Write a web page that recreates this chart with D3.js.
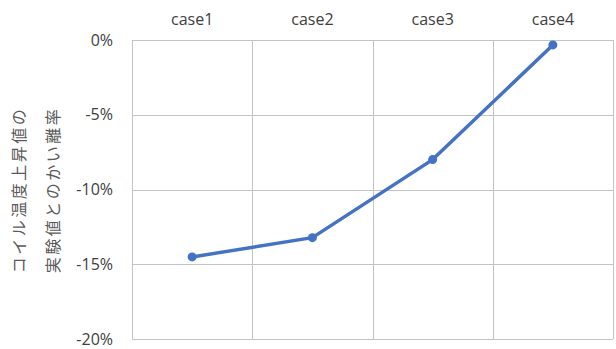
<!DOCTYPE html>
<html>
<head>
<meta charset="utf-8">
<script src="https://cdn.jsdelivr.net/npm/d3@7"></script>
<style>
  html, body { margin: 0; padding: 0; background: #fff; }
  svg { display: block; }
</style>
</head>
<body>
<svg id="chart" width="616" height="349"></svg>
<script>
// Categories shown along the top edge
const categories = ["case1", "case2", "case3", "case4"];
// Deviation of coil temperature rise from measured values (fraction)
const deviation = [-0.1451, -0.1322, -0.0800, -0.0033];
// Y axis ticks
const yTicks = [0, -0.05, -0.10, -0.15, -0.20];
// Axis title lines (rotated)
const yTitleLines = ["コイル温度上昇値の", "実験値とのかい離率"];

const svg = d3.select("#chart");
const plot = { left: 132, right: 613, top: 40, bottom: 339 };

const x = d3.scaleBand().domain(categories).range([plot.left, plot.right]).padding(0);
const y = d3.scaleLinear().domain([-0.20, 0]).range([plot.bottom, plot.top]);

const textColor = "#595959";
const labelColor = "#404040";
const gridColor = "#c4c4c4";
const latin = "'Open Sans', 'Noto Sans', sans-serif";

// Horizontal gridlines
svg.append("g")
  .selectAll("line")
  .data(yTicks)
  .join("line")
  .attr("x1", plot.left).attr("x2", plot.right)
  .attr("y1", d => Math.round(y(d)) + 0.5).attr("y2", d => Math.round(y(d)) + 0.5)
  .attr("stroke", gridColor).attr("stroke-width", 1);

// Vertical gridlines at category boundaries
const bounds = categories.map(c => x(c)).concat([x(categories[categories.length - 1]) + x.bandwidth()]);
svg.append("g")
  .selectAll("line")
  .data(bounds)
  .join("line")
  .attr("x1", d => Math.round(d) + 0.5).attr("x2", d => Math.round(d) + 0.5)
  .attr("y1", plot.top).attr("y2", plot.bottom)
  .attr("stroke", gridColor).attr("stroke-width", 1);

// Y axis tick labels
const yAxis = d3.axisLeft(y).tickValues(yTicks).tickSize(0).tickPadding(19);
const gy = svg.append("g").attr("transform", `translate(${plot.left},0)`).call(yAxis);
gy.select(".domain").remove();
gy.selectAll("text")
  .attr("fill", labelColor)
  .style("font-family", latin)
  .style("font-size", "16px")
  .text(d => d === 0 ? "0%" : d3.format(".0%")(d).replace("−", "-"));

// Category labels at the top
const xAxis = d3.axisTop(x).tickSize(0).tickPadding(0);
const gx = svg.append("g").attr("transform", `translate(0,20)`).call(xAxis);
gx.select(".domain").remove();
gx.selectAll("text")
  .attr("fill", labelColor)
  .attr("dy", "0.32em")
  .attr("y", 0)
  .style("font-family", latin)
  .style("font-size", "16px");

// Rotated y axis title
const titleX = [19, 53];
yTitleLines.forEach((t, i) => {
  svg.append("text")
    .attr("transform", `translate(${titleX[i]},190) rotate(-90)`)
    .attr("text-anchor", "middle")
    .attr("dy", "0.35em")
    .attr("fill", textColor)
    .style("font-family", "'Noto Sans CJK JP', sans-serif")
    .style("font-size", "16px")
    .style("letter-spacing", "2.5px")
    .text(t);
});

// Series line and markers
const pts = categories.map((c, i) => ({ c, v: deviation[i] }));
const line = d3.line().x(d => x(d.c) + x.bandwidth() / 2).y(d => y(d.v));
svg.append("path")
  .datum(pts)
  .attr("d", line)
  .attr("fill", "none")
  .attr("stroke", "#4472c4")
  .attr("stroke-width", 3.5)
  .attr("stroke-linejoin", "round");
svg.append("g")
  .selectAll("circle")
  .data(pts)
  .join("circle")
  .attr("cx", d => x(d.c) + x.bandwidth() / 2)
  .attr("cy", d => y(d.v))
  .attr("r", 4.5)
  .attr("fill", "#4472c4");
</script>
</body>
</html>
